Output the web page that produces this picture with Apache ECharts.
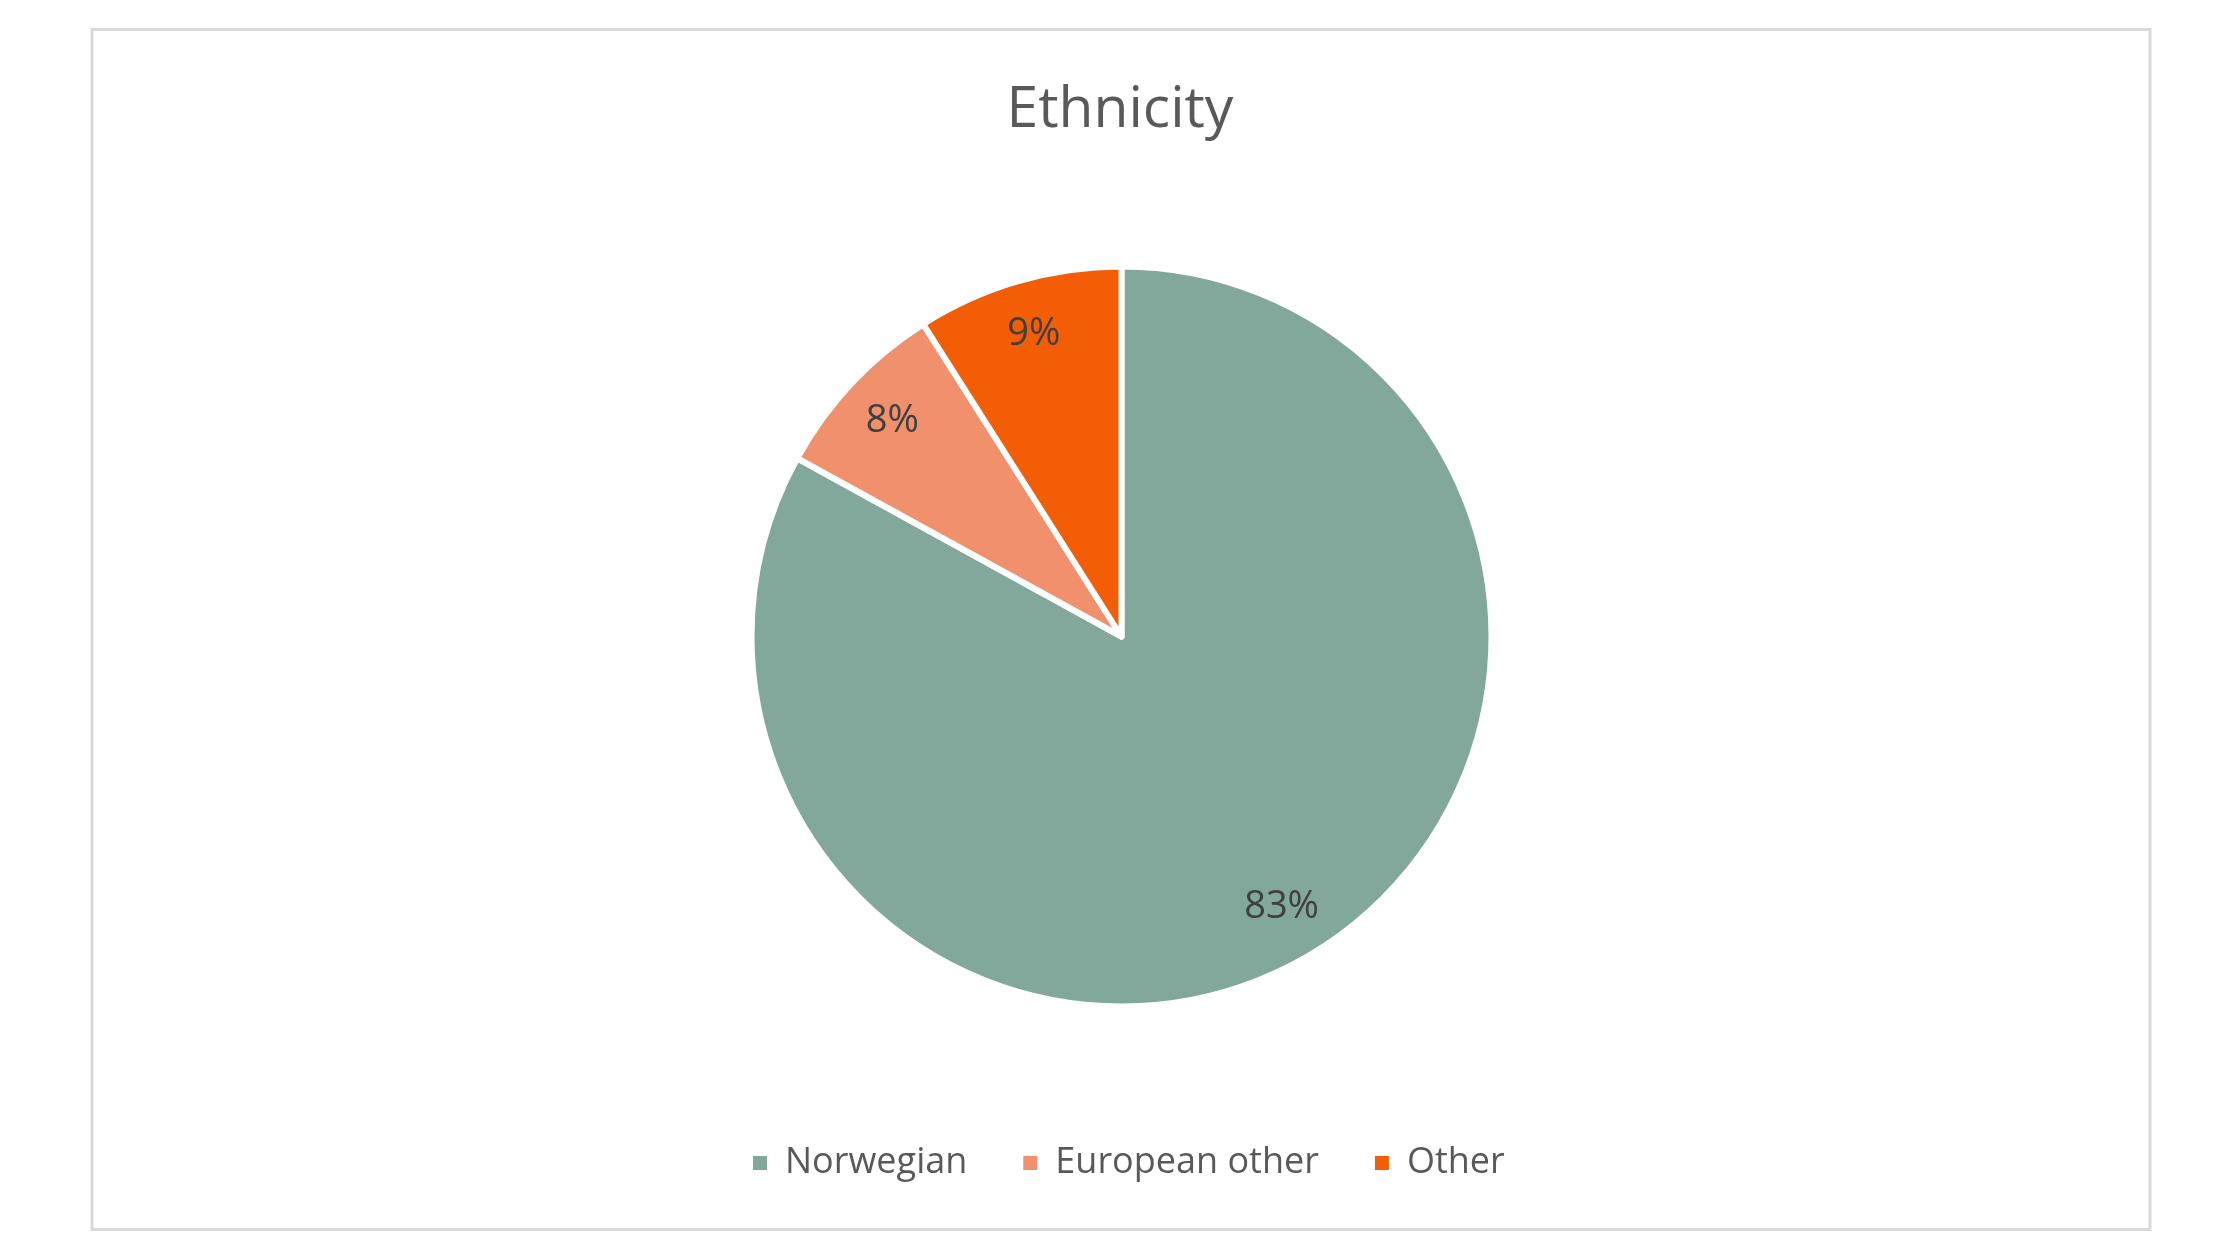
<!DOCTYPE html>
<html>
<head>
<meta charset="utf-8">
<script src="https://cdn.jsdelivr.net/npm/echarts@6/dist/echarts.min.js"></script>
<style>
html,body{margin:0;padding:0;background:#fff;}
#c{width:2240px;height:1260px;}
</style>
</head>
<body>
<div id="c"></div>
<script>
const titleText = 'Ethnicity';
const categories = ['Norwegian', 'European other', 'Other'];
const values = [83, 8, 9];
const colors = ['#82A89B', '#F0906C', '#F25D05'];

const chart = echarts.init(document.getElementById('c'), null, {renderer: 'canvas'});
const data = categories.map((n, i) => ({name: n, value: values[i], itemStyle: {color: colors[i]}}));
const labelData = categories.map((n, i) => ({name: n, value: values[i]}));

chart.setOption({
  animation: false,
  color: colors,
  title: {
    text: titleText,
    left: 'center',
    top: 77,
    textStyle: {fontFamily: 'Open Sans', fontSize: 57, fontWeight: 'normal', color: '#595959'}
  },
  legend: {
    data: categories.map((n, i) => ({name: n, itemStyle: {color: colors[i]}})),
    left: 746,
    top: 1140,
    icon: 'rect',
    itemWidth: 16,
    itemHeight: 16,
    itemGap: 54,
    selectedMode: false,
    textStyle: {fontFamily: 'Open Sans', fontSize: 36, color: '#595959', padding: [0, 0, 0, 12]}
  },
  graphic: [{
    type: 'rect',
    shape: {x: 92, y: 29.5, width: 2058, height: 1200},
    style: {fill: 'none', stroke: '#d9d9d9', lineWidth: 3},
    silent: true
  }],
  series: [{
    type: 'pie',
    center: [1121.5, 636.5],
    radius: [0, 370],
    startAngle: 90,
    clockwise: true,
    label: {show: false},
    labelLine: {show: false},
    itemStyle: {borderColor: '#ffffff', borderWidth: 6},
    emphasis: {disabled: true},
    data: data
  }, {
    type: 'pie',
    center: [1121.5, 636.5],
    radius: [256, 367],
    startAngle: 90,
    clockwise: true,
    silent: true,
    legendHoverLink: false,
    itemStyle: {color: 'rgba(0,0,0,0)'},
    label: {
      show: true,
      position: 'inside',
      formatter: p => p.value + '%',
      fontFamily: 'Open Sans',
      fontSize: 38,
      color: '#404040'
    },
    labelLine: {show: false},
    emphasis: {disabled: true},
    data: labelData
  }]
});
</script>
</body>
</html>
